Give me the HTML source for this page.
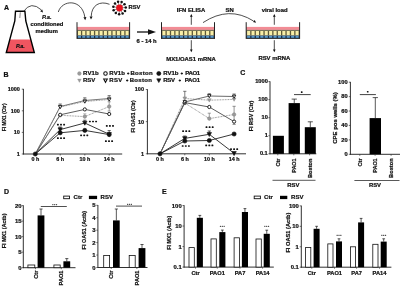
<!DOCTYPE html>
<html><head><meta charset="utf-8"><title>Figure</title>
<style>html,body{margin:0;padding:0;background:#fff;width:400px;height:286px;overflow:hidden}svg{display:block;will-change:transform;filter:blur(0.3px);font-family:"Liberation Sans",sans-serif}text{stroke:#111;stroke-width:0.22px}</style>
</head><body>
<svg width="400" height="286" viewBox="0 0 400 286" font-family="Liberation Sans, sans-serif" font-weight="bold">
<rect width="400" height="286" fill="#fff"/>
<text x="4.0" y="9.6" font-size="7" text-anchor="start" fill="#111" >A</text>
<polygon points="15.5,11.3 14.8,21 6.3,52.5 34.3,52.5 25.8,21 24.9,11.3" fill="#fffdfd" stroke="none"/>
<polygon points="9.83,39.4 6.30,52.5 34.30,52.5 30.77,39.4" fill="#f05560"/>
<polygon points="15.5,11.3 14.8,21 6.3,52.5 34.3,52.5 25.8,21 24.9,11.3" fill="none" stroke="#000" stroke-width="1.4" stroke-linejoin="miter"/>
<line x1="20.3" y1="12.3" x2="19.8" y2="18.0" stroke="#666" stroke-width="0.75" />
<text x="20.4" y="48.0" font-size="5.4" text-anchor="middle" fill="#111" font-style="italic">P.a.</text>
<path d="M23.5,11.5 Q31,0.5 41.5,10" fill="none" stroke="#222" stroke-width="0.8"/>
<polygon points="43.00,12.50 40.13,11.25 42.27,9.46" fill="#111"/>
<text x="46.8" y="18.7" font-size="5.8" text-anchor="middle" fill="#111" font-style="italic">P.a.</text>
<text x="47" y="26.3" font-size="5.8" text-anchor="middle" fill="#111" >conditioned</text>
<text x="46.7" y="33.3" font-size="5.8" text-anchor="middle" fill="#111" >medium</text>
<path d="M58.3,12 C62,-0.5 82,-1.5 84.8,17" fill="none" stroke="#222" stroke-width="0.8"/>
<polygon points="85.20,20.20 83.44,17.34 86.43,17.08" fill="#111"/>
<path d="M109.5,4.3 C100,0.5 91.5,5 91.2,16.5" fill="none" stroke="#222" stroke-width="0.8"/>
<polygon points="91.00,19.50 89.61,16.45 92.60,16.55" fill="#111"/>
<line x1="119.5" y1="8" x2="118.08280835763365" y2="1.8614685918530185" stroke="#222" stroke-width="0.5" />
<circle cx="118.08" cy="1.86" r="1.25" fill="#111"/>
<line x1="119.5" y1="8" x2="121.62652316263792" y2="2.0697471184810023" stroke="#222" stroke-width="0.5" />
<circle cx="121.63" cy="2.07" r="1.25" fill="#111"/>
<line x1="119.5" y1="8" x2="124.49508188879933" y2="4.160839033826684" stroke="#222" stroke-width="0.5" />
<circle cx="124.50" cy="4.16" r="1.25" fill="#111"/>
<line x1="119.5" y1="8" x2="125.77773740882905" y2="7.470837429717251" stroke="#222" stroke-width="0.5" />
<circle cx="125.78" cy="7.47" r="1.25" fill="#111"/>
<line x1="119.5" y1="8" x2="125.06725565792848" y2="10.948841202788536" stroke="#222" stroke-width="0.5" />
<circle cx="125.07" cy="10.95" r="1.25" fill="#111"/>
<line x1="119.5" y1="8" x2="122.58920957198437" y2="13.49060872949076" stroke="#222" stroke-width="0.5" />
<circle cx="122.59" cy="13.49" r="1.25" fill="#111"/>
<line x1="119.5" y1="8" x2="119.13036127424704" y2="14.289146779367112" stroke="#222" stroke-width="0.5" />
<circle cx="119.13" cy="14.29" r="1.25" fill="#111"/>
<line x1="119.5" y1="8" x2="115.78887066019382" y2="13.0909251637821" stroke="#222" stroke-width="0.5" />
<circle cx="115.79" cy="13.09" r="1.25" fill="#111"/>
<line x1="119.5" y1="8" x2="113.62563738994218" y2="10.276370779454586" stroke="#222" stroke-width="0.5" />
<circle cx="113.63" cy="10.28" r="1.25" fill="#111"/>
<line x1="119.5" y1="8" x2="113.3274727421211" y2="6.739084756717586" stroke="#222" stroke-width="0.5" />
<circle cx="113.33" cy="6.74" r="1.25" fill="#111"/>
<line x1="119.5" y1="8" x2="114.98904188568304" y2="3.60213041452137" stroke="#222" stroke-width="0.5" />
<circle cx="114.99" cy="3.60" r="1.25" fill="#111"/>
<circle cx="119.5" cy="8" r="3.4" fill="#e8141f"/>
<text x="128.5" y="8.6" font-size="5.8" text-anchor="start" fill="#111" >RSV</text>
<rect x="77" y="26.9" width="52.599999999999994" height="3.0" fill="#f28c95" stroke="none" stroke-width="0"/>
<rect x="77" y="29.9" width="52.599999999999994" height="0.8" fill="#55553c" stroke="none" stroke-width="0"/>
<rect x="77" y="30.6" width="52.599999999999994" height="4.9" fill="#5e5a38" stroke="none" stroke-width="0"/>
<rect x="77" y="35.5" width="52.599999999999994" height="2.8" fill="#142c48" stroke="none" stroke-width="0"/>
<rect x="77" y="38.2" width="52.599999999999994" height="0.8" fill="#1c1c1c" stroke="none" stroke-width="0"/>
<rect x="77.9" y="31.0" width="3.033333333333333" height="4.2" fill="#f8eea8" stroke="none" stroke-width="0"/>
<rect x="77.9" y="35.9" width="3.083333333333333" height="1.9" fill="#5a98c8" stroke="none" stroke-width="0"/>
<rect x="82.23333333333333" y="31.0" width="3.033333333333333" height="4.2" fill="#f8eea8" stroke="none" stroke-width="0"/>
<rect x="82.23333333333333" y="35.9" width="3.083333333333333" height="1.9" fill="#5a98c8" stroke="none" stroke-width="0"/>
<rect x="86.56666666666668" y="31.0" width="3.033333333333333" height="4.2" fill="#f8eea8" stroke="none" stroke-width="0"/>
<rect x="86.56666666666668" y="35.9" width="3.083333333333333" height="1.9" fill="#5a98c8" stroke="none" stroke-width="0"/>
<rect x="90.9" y="31.0" width="3.033333333333333" height="4.2" fill="#f8eea8" stroke="none" stroke-width="0"/>
<rect x="90.9" y="35.9" width="3.083333333333333" height="1.9" fill="#5a98c8" stroke="none" stroke-width="0"/>
<rect x="95.23333333333333" y="31.0" width="3.033333333333333" height="4.2" fill="#f8eea8" stroke="none" stroke-width="0"/>
<rect x="95.23333333333333" y="35.9" width="3.083333333333333" height="1.9" fill="#5a98c8" stroke="none" stroke-width="0"/>
<rect x="99.56666666666668" y="31.0" width="3.033333333333333" height="4.2" fill="#f8eea8" stroke="none" stroke-width="0"/>
<rect x="99.56666666666668" y="35.9" width="3.083333333333333" height="1.9" fill="#5a98c8" stroke="none" stroke-width="0"/>
<rect x="103.9" y="31.0" width="3.033333333333333" height="4.2" fill="#f8eea8" stroke="none" stroke-width="0"/>
<rect x="103.9" y="35.9" width="3.083333333333333" height="1.9" fill="#5a98c8" stroke="none" stroke-width="0"/>
<rect x="108.23333333333333" y="31.0" width="3.033333333333333" height="4.2" fill="#f8eea8" stroke="none" stroke-width="0"/>
<rect x="108.23333333333333" y="35.9" width="3.083333333333333" height="1.9" fill="#5a98c8" stroke="none" stroke-width="0"/>
<rect x="112.56666666666668" y="31.0" width="3.033333333333333" height="4.2" fill="#f8eea8" stroke="none" stroke-width="0"/>
<rect x="112.56666666666668" y="35.9" width="3.083333333333333" height="1.9" fill="#5a98c8" stroke="none" stroke-width="0"/>
<rect x="116.9" y="31.0" width="3.033333333333333" height="4.2" fill="#f8eea8" stroke="none" stroke-width="0"/>
<rect x="116.9" y="35.9" width="3.083333333333333" height="1.9" fill="#5a98c8" stroke="none" stroke-width="0"/>
<rect x="121.23333333333333" y="31.0" width="3.033333333333333" height="4.2" fill="#f8eea8" stroke="none" stroke-width="0"/>
<rect x="121.23333333333333" y="35.9" width="3.083333333333333" height="1.9" fill="#5a98c8" stroke="none" stroke-width="0"/>
<rect x="125.56666666666668" y="31.0" width="3.033333333333333" height="4.2" fill="#f8eea8" stroke="none" stroke-width="0"/>
<rect x="125.56666666666668" y="35.9" width="3.083333333333333" height="1.9" fill="#5a98c8" stroke="none" stroke-width="0"/>
<line x1="77" y1="22.2" x2="77" y2="38.9" stroke="#222" stroke-width="1.0" />
<line x1="129.6" y1="22.2" x2="129.6" y2="38.9" stroke="#222" stroke-width="1.0" />
<rect x="161.5" y="26.9" width="53.0" height="3.0" fill="#f28c95" stroke="none" stroke-width="0"/>
<rect x="161.5" y="29.9" width="53.0" height="0.8" fill="#55553c" stroke="none" stroke-width="0"/>
<rect x="161.5" y="30.6" width="53.0" height="4.9" fill="#5e5a38" stroke="none" stroke-width="0"/>
<rect x="161.5" y="35.5" width="53.0" height="2.8" fill="#142c48" stroke="none" stroke-width="0"/>
<rect x="161.5" y="38.2" width="53.0" height="0.8" fill="#1c1c1c" stroke="none" stroke-width="0"/>
<rect x="162.39999999999998" y="31.0" width="3.0666666666666664" height="4.2" fill="#f8eea8" stroke="none" stroke-width="0"/>
<rect x="162.39999999999998" y="35.9" width="3.1166666666666663" height="1.9" fill="#5a98c8" stroke="none" stroke-width="0"/>
<rect x="166.76666666666665" y="31.0" width="3.0666666666666664" height="4.2" fill="#f8eea8" stroke="none" stroke-width="0"/>
<rect x="166.76666666666665" y="35.9" width="3.1166666666666663" height="1.9" fill="#5a98c8" stroke="none" stroke-width="0"/>
<rect x="171.1333333333333" y="31.0" width="3.0666666666666664" height="4.2" fill="#f8eea8" stroke="none" stroke-width="0"/>
<rect x="171.1333333333333" y="35.9" width="3.1166666666666663" height="1.9" fill="#5a98c8" stroke="none" stroke-width="0"/>
<rect x="175.49999999999997" y="31.0" width="3.0666666666666664" height="4.2" fill="#f8eea8" stroke="none" stroke-width="0"/>
<rect x="175.49999999999997" y="35.9" width="3.1166666666666663" height="1.9" fill="#5a98c8" stroke="none" stroke-width="0"/>
<rect x="179.86666666666665" y="31.0" width="3.0666666666666664" height="4.2" fill="#f8eea8" stroke="none" stroke-width="0"/>
<rect x="179.86666666666665" y="35.9" width="3.1166666666666663" height="1.9" fill="#5a98c8" stroke="none" stroke-width="0"/>
<rect x="184.23333333333332" y="31.0" width="3.0666666666666664" height="4.2" fill="#f8eea8" stroke="none" stroke-width="0"/>
<rect x="184.23333333333332" y="35.9" width="3.1166666666666663" height="1.9" fill="#5a98c8" stroke="none" stroke-width="0"/>
<rect x="188.59999999999997" y="31.0" width="3.0666666666666664" height="4.2" fill="#f8eea8" stroke="none" stroke-width="0"/>
<rect x="188.59999999999997" y="35.9" width="3.1166666666666663" height="1.9" fill="#5a98c8" stroke="none" stroke-width="0"/>
<rect x="192.96666666666664" y="31.0" width="3.0666666666666664" height="4.2" fill="#f8eea8" stroke="none" stroke-width="0"/>
<rect x="192.96666666666664" y="35.9" width="3.1166666666666663" height="1.9" fill="#5a98c8" stroke="none" stroke-width="0"/>
<rect x="197.33333333333331" y="31.0" width="3.0666666666666664" height="4.2" fill="#f8eea8" stroke="none" stroke-width="0"/>
<rect x="197.33333333333331" y="35.9" width="3.1166666666666663" height="1.9" fill="#5a98c8" stroke="none" stroke-width="0"/>
<rect x="201.7" y="31.0" width="3.0666666666666664" height="4.2" fill="#f8eea8" stroke="none" stroke-width="0"/>
<rect x="201.7" y="35.9" width="3.1166666666666663" height="1.9" fill="#5a98c8" stroke="none" stroke-width="0"/>
<rect x="206.06666666666663" y="31.0" width="3.0666666666666664" height="4.2" fill="#f8eea8" stroke="none" stroke-width="0"/>
<rect x="206.06666666666663" y="35.9" width="3.1166666666666663" height="1.9" fill="#5a98c8" stroke="none" stroke-width="0"/>
<rect x="210.4333333333333" y="31.0" width="3.0666666666666664" height="4.2" fill="#f8eea8" stroke="none" stroke-width="0"/>
<rect x="210.4333333333333" y="35.9" width="3.1166666666666663" height="1.9" fill="#5a98c8" stroke="none" stroke-width="0"/>
<line x1="161.5" y1="22.2" x2="161.5" y2="38.9" stroke="#222" stroke-width="1.0" />
<line x1="214.5" y1="22.2" x2="214.5" y2="38.9" stroke="#222" stroke-width="1.0" />
<rect x="246.2" y="26.9" width="53.400000000000034" height="3.0" fill="#f28c95" stroke="none" stroke-width="0"/>
<rect x="246.2" y="29.9" width="53.400000000000034" height="0.8" fill="#55553c" stroke="none" stroke-width="0"/>
<rect x="246.2" y="30.6" width="53.400000000000034" height="4.9" fill="#5e5a38" stroke="none" stroke-width="0"/>
<rect x="246.2" y="35.5" width="53.400000000000034" height="2.8" fill="#142c48" stroke="none" stroke-width="0"/>
<rect x="246.2" y="38.2" width="53.400000000000034" height="0.8" fill="#1c1c1c" stroke="none" stroke-width="0"/>
<rect x="247.09999999999997" y="31.0" width="3.100000000000003" height="4.2" fill="#f8eea8" stroke="none" stroke-width="0"/>
<rect x="247.09999999999997" y="35.9" width="3.150000000000003" height="1.9" fill="#5a98c8" stroke="none" stroke-width="0"/>
<rect x="251.49999999999997" y="31.0" width="3.100000000000003" height="4.2" fill="#f8eea8" stroke="none" stroke-width="0"/>
<rect x="251.49999999999997" y="35.9" width="3.150000000000003" height="1.9" fill="#5a98c8" stroke="none" stroke-width="0"/>
<rect x="255.89999999999998" y="31.0" width="3.100000000000003" height="4.2" fill="#f8eea8" stroke="none" stroke-width="0"/>
<rect x="255.89999999999998" y="35.9" width="3.150000000000003" height="1.9" fill="#5a98c8" stroke="none" stroke-width="0"/>
<rect x="260.29999999999995" y="31.0" width="3.100000000000003" height="4.2" fill="#f8eea8" stroke="none" stroke-width="0"/>
<rect x="260.29999999999995" y="35.9" width="3.150000000000003" height="1.9" fill="#5a98c8" stroke="none" stroke-width="0"/>
<rect x="264.7" y="31.0" width="3.100000000000003" height="4.2" fill="#f8eea8" stroke="none" stroke-width="0"/>
<rect x="264.7" y="35.9" width="3.150000000000003" height="1.9" fill="#5a98c8" stroke="none" stroke-width="0"/>
<rect x="269.09999999999997" y="31.0" width="3.100000000000003" height="4.2" fill="#f8eea8" stroke="none" stroke-width="0"/>
<rect x="269.09999999999997" y="35.9" width="3.150000000000003" height="1.9" fill="#5a98c8" stroke="none" stroke-width="0"/>
<rect x="273.5" y="31.0" width="3.100000000000003" height="4.2" fill="#f8eea8" stroke="none" stroke-width="0"/>
<rect x="273.5" y="35.9" width="3.150000000000003" height="1.9" fill="#5a98c8" stroke="none" stroke-width="0"/>
<rect x="277.9" y="31.0" width="3.100000000000003" height="4.2" fill="#f8eea8" stroke="none" stroke-width="0"/>
<rect x="277.9" y="35.9" width="3.150000000000003" height="1.9" fill="#5a98c8" stroke="none" stroke-width="0"/>
<rect x="282.3" y="31.0" width="3.100000000000003" height="4.2" fill="#f8eea8" stroke="none" stroke-width="0"/>
<rect x="282.3" y="35.9" width="3.150000000000003" height="1.9" fill="#5a98c8" stroke="none" stroke-width="0"/>
<rect x="286.7" y="31.0" width="3.100000000000003" height="4.2" fill="#f8eea8" stroke="none" stroke-width="0"/>
<rect x="286.7" y="35.9" width="3.150000000000003" height="1.9" fill="#5a98c8" stroke="none" stroke-width="0"/>
<rect x="291.09999999999997" y="31.0" width="3.100000000000003" height="4.2" fill="#f8eea8" stroke="none" stroke-width="0"/>
<rect x="291.09999999999997" y="35.9" width="3.150000000000003" height="1.9" fill="#5a98c8" stroke="none" stroke-width="0"/>
<rect x="295.5" y="31.0" width="3.100000000000003" height="4.2" fill="#f8eea8" stroke="none" stroke-width="0"/>
<rect x="295.5" y="35.9" width="3.150000000000003" height="1.9" fill="#5a98c8" stroke="none" stroke-width="0"/>
<line x1="246.2" y1="22.2" x2="246.2" y2="38.9" stroke="#222" stroke-width="1.0" />
<line x1="299.6" y1="22.2" x2="299.6" y2="38.9" stroke="#222" stroke-width="1.0" />
<line x1="137" y1="32" x2="149" y2="32" stroke="#111" stroke-width="1.3" />
<polygon points="148,29.2 156,32 148,34.8" fill="#111"/>
<text x="146.6" y="42.6" font-size="5.8" text-anchor="middle" fill="#111" >6 - 14 h</text>
<line x1="191.3" y1="24.8" x2="191.3" y2="16" stroke="#111" stroke-width="0.75" />
<polygon points="191.30,14.00 192.65,16.70 189.95,16.70" fill="#111"/>
<line x1="191.3" y1="40.2" x2="191.3" y2="50" stroke="#111" stroke-width="0.75" />
<polygon points="191.30,52.30 189.95,49.60 192.65,49.60" fill="#111"/>
<text x="191" y="12" font-size="5.9" text-anchor="middle" fill="#111" >IFN ELISA</text>
<text x="191" y="60.6" font-size="5.9" text-anchor="middle" fill="#111" >MX1/OAS1 mRNA</text>
<path d="M203,22.6 Q229,5.5 253.5,21" fill="none" stroke="#222" stroke-width="0.8"/>
<polygon points="256.00,22.80 252.96,22.07 254.75,19.93" fill="#111"/>
<text x="229.6" y="11.8" font-size="5.9" text-anchor="middle" fill="#111" >SN</text>
<line x1="274.3" y1="24.8" x2="274.3" y2="16" stroke="#111" stroke-width="0.75" />
<polygon points="274.30,14.00 275.65,16.70 272.95,16.70" fill="#111"/>
<line x1="274.3" y1="40.2" x2="274.3" y2="50" stroke="#111" stroke-width="0.75" />
<polygon points="274.30,52.30 272.95,49.60 275.65,49.60" fill="#111"/>
<text x="274.6" y="11.7" font-size="5.9" text-anchor="middle" fill="#111" >viral load</text>
<text x="274.3" y="60.4" font-size="5.9" text-anchor="middle" fill="#111" >RSV mRNA</text>
<text x="3.6" y="76.6" font-size="7" text-anchor="start" fill="#111" >B</text>
<circle cx="79.4" cy="73.5" r="1.9" fill="#9a9a9a" stroke="#9a9a9a" stroke-width="0.3"/>
<polygon points="77.5,78.98 81.30000000000001,78.98 79.4,82.4" fill="#9a9a9a" stroke="#9a9a9a" stroke-width="0.3"/>
<text x="83.10000000000001" y="75.4" font-size="6.0" textLength="15.50" lengthAdjust="spacing" fill="#111" >RV1b</text>
<text x="83.10000000000001" y="82.4" font-size="6.0" textLength="12.20" lengthAdjust="spacing" fill="#111" >RSV</text>
<circle cx="105.5" cy="73.5" r="1.75" fill="#fff" stroke="#111" stroke-width="1.05"/>
<polygon points="103.7,79.06 107.3,79.06 105.5,82.3" fill="#fff" stroke="#111" stroke-width="1.05"/>
<text x="109.30000000000001" y="75.4" font-size="6.0" textLength="15.70" lengthAdjust="spacing" fill="#111" >RV1b</text>
<line x1="127.1" y1="73.5" x2="129.29999999999998" y2="73.5" stroke="#111" stroke-width="0.95" />
<line x1="128.2" y1="72.4" x2="128.2" y2="74.6" stroke="#111" stroke-width="0.95" />
<text x="130.4" y="75.4" font-size="6.0" textLength="22.20" lengthAdjust="spacing" fill="#111" >Boston</text>
<text x="109.30000000000001" y="82.4" font-size="6.0" textLength="13.00" lengthAdjust="spacing" fill="#111" >RSV</text>
<line x1="126.10000000000001" y1="80.5" x2="128.3" y2="80.5" stroke="#111" stroke-width="0.95" />
<line x1="127.2" y1="79.4" x2="127.2" y2="81.6" stroke="#111" stroke-width="0.95" />
<text x="129.70000000000002" y="82.4" font-size="6.0" textLength="22.30" lengthAdjust="spacing" fill="#111" >Boston</text>
<circle cx="158.8" cy="73.5" r="2.05" fill="#111" stroke="#111" stroke-width="0.6"/>
<polygon points="156.75,78.86 160.85000000000002,78.86 158.8,82.55" fill="#111" stroke="#111" stroke-width="0.6"/>
<text x="163.3" y="75.4" font-size="6.0" textLength="15.10" lengthAdjust="spacing" fill="#111" >RV1b</text>
<line x1="180.70000000000002" y1="73.5" x2="182.9" y2="73.5" stroke="#111" stroke-width="0.95" />
<line x1="181.8" y1="72.4" x2="181.8" y2="74.6" stroke="#111" stroke-width="0.95" />
<text x="185.3" y="75.4" font-size="6.0" textLength="14.70" lengthAdjust="spacing" fill="#111" >PAO1</text>
<text x="163.3" y="82.4" font-size="6.0" textLength="11.80" lengthAdjust="spacing" fill="#111" >RSV</text>
<line x1="178.70000000000002" y1="80.5" x2="180.9" y2="80.5" stroke="#111" stroke-width="0.95" />
<line x1="179.8" y1="79.4" x2="179.8" y2="81.6" stroke="#111" stroke-width="0.95" />
<text x="184.8" y="82.4" font-size="6.0" textLength="15.20" lengthAdjust="spacing" fill="#111" >PAO1</text>
<line x1="23.4" y1="88.9" x2="23.4" y2="154.4" stroke="#1a1a1a" stroke-width="0.9" />
<line x1="23.0" y1="154.0" x2="122.2" y2="154.0" stroke="#1a1a1a" stroke-width="0.9" />
<line x1="21.799999999999997" y1="89.2" x2="23.4" y2="89.2" stroke="#333" stroke-width="0.7" />
<text x="19.9" y="91.192" font-size="5.5" text-anchor="end" fill="#111" >1000</text>
<line x1="21.799999999999997" y1="110.8" x2="23.4" y2="110.8" stroke="#333" stroke-width="0.7" />
<text x="19.9" y="112.79199999999999" font-size="5.5" text-anchor="end" fill="#111" >100</text>
<line x1="21.799999999999997" y1="132.4" x2="23.4" y2="132.4" stroke="#333" stroke-width="0.7" />
<text x="19.9" y="134.392" font-size="5.5" text-anchor="end" fill="#111" >10</text>
<line x1="21.799999999999997" y1="154.0" x2="23.4" y2="154.0" stroke="#333" stroke-width="0.7" />
<text x="19.9" y="155.992" font-size="5.5" text-anchor="end" fill="#111" >1</text>
<line x1="35.3" y1="154.0" x2="35.3" y2="155.5" stroke="#333" stroke-width="0.7" />
<text x="35.3" y="161.4" font-size="5.4" text-anchor="middle" fill="#111" >0 h</text>
<line x1="60.2" y1="154.0" x2="60.2" y2="155.5" stroke="#333" stroke-width="0.7" />
<text x="60.2" y="161.4" font-size="5.4" text-anchor="middle" fill="#111" >6 h</text>
<line x1="84.8" y1="154.0" x2="84.8" y2="155.5" stroke="#333" stroke-width="0.7" />
<text x="84.8" y="161.4" font-size="5.4" text-anchor="middle" fill="#111" >10 h</text>
<line x1="109.2" y1="154.0" x2="109.2" y2="155.5" stroke="#333" stroke-width="0.7" />
<text x="109.2" y="161.4" font-size="5.4" text-anchor="middle" fill="#111" >14 h</text>
<text transform="translate(6.13,131.30) rotate(-90)" font-size="6.2" textLength="27.90" lengthAdjust="spacingAndGlyphs" fill="#111">FI MX1 (Ctr)</text>
<line x1="60.2" y1="106.5" x2="60.2" y2="104.0" stroke="#444" stroke-width="0.7" />
<line x1="58.6" y1="104.0" x2="61.800000000000004" y2="104.0" stroke="#444" stroke-width="0.7" />
<line x1="84.8" y1="100.5" x2="84.8" y2="97.8" stroke="#444" stroke-width="0.7" />
<line x1="83.2" y1="97.8" x2="86.39999999999999" y2="97.8" stroke="#444" stroke-width="0.7" />
<line x1="109.2" y1="98.5" x2="109.2" y2="95.6" stroke="#444" stroke-width="0.7" />
<line x1="107.60000000000001" y1="95.6" x2="110.8" y2="95.6" stroke="#444" stroke-width="0.7" />
<line x1="109.2" y1="106.5" x2="109.2" y2="101.8" stroke="#777" stroke-width="0.7" />
<line x1="107.60000000000001" y1="101.8" x2="110.8" y2="101.8" stroke="#777" stroke-width="0.7" />
<line x1="109.2" y1="106.5" x2="109.2" y2="111" stroke="#777" stroke-width="0.7" />
<line x1="107.60000000000001" y1="111" x2="110.8" y2="111" stroke="#777" stroke-width="0.7" />
<line x1="84.8" y1="116.6" x2="84.8" y2="113.8" stroke="#9a9a9a" stroke-width="0.7" />
<line x1="83.2" y1="113.8" x2="86.39999999999999" y2="113.8" stroke="#9a9a9a" stroke-width="0.7" />
<line x1="84.8" y1="123.0" x2="84.8" y2="120.2" stroke="#222" stroke-width="0.7" />
<line x1="83.2" y1="120.2" x2="86.39999999999999" y2="120.2" stroke="#222" stroke-width="0.7" />
<line x1="109.2" y1="134.4" x2="109.2" y2="130.6" stroke="#222" stroke-width="0.7" />
<line x1="107.60000000000001" y1="130.6" x2="110.8" y2="130.6" stroke="#222" stroke-width="0.7" />
<line x1="60.2" y1="129.6" x2="60.2" y2="127.0" stroke="#222" stroke-width="0.7" />
<line x1="58.6" y1="127.0" x2="61.800000000000004" y2="127.0" stroke="#222" stroke-width="0.7" />
<path d="M35.3,154.0 L60.2,106.5 L84.8,100.5 L109.2,98.5" fill="none" stroke="#555" stroke-width="0.8" />
<path d="M35.3,154.0 L60.2,107.0 L84.8,101.5 L109.2,99.5" fill="none" stroke="#777" stroke-width="0.8" stroke-dasharray="0.9,0.7"/>
<path d="M35.3,154.0 L60.2,114.8 L84.8,109.4 L109.2,114.0" fill="none" stroke="#333" stroke-width="0.8" />
<path d="M35.3,154.0 L60.2,115.3 L84.8,116.6 L109.2,106.5" fill="none" stroke="#777" stroke-width="0.8" stroke-dasharray="0.9,0.7"/>
<path d="M35.3,154.0 L60.2,132.8 L84.8,130.4 L109.2,134.6" fill="none" stroke="#222" stroke-width="0.9" />
<path d="M35.3,154.0 L60.2,129.6 L84.8,123.0 L109.2,134.3" fill="none" stroke="#222" stroke-width="0.9" />
<polygon points="58.300000000000004,104.98 62.1,104.98 60.2,108.4" fill="#9a9a9a" stroke="#777" stroke-width="0.4"/>
<circle cx="60.2" cy="115.3" r="1.8" fill="#9a9a9a" stroke="#777" stroke-width="0.4"/>
<circle cx="60.2" cy="114.8" r="1.6" fill="#fff" stroke="#111" stroke-width="0.9"/>
<polygon points="58.5,105.64 61.900000000000006,105.64 60.2,108.7" fill="#fff" stroke="#111" stroke-width="0.9"/>
<circle cx="60.2" cy="132.8" r="2.1" fill="#111" stroke="#111" stroke-width="0.6"/>
<polygon points="58.0,127.83999999999999 62.400000000000006,127.83999999999999 60.2,131.79999999999998" fill="#111" stroke="#111" stroke-width="0.6"/>
<polygon points="82.89999999999999,98.98 86.7,98.98 84.8,102.4" fill="#9a9a9a" stroke="#777" stroke-width="0.4"/>
<circle cx="84.8" cy="116.6" r="1.8" fill="#9a9a9a" stroke="#777" stroke-width="0.4"/>
<circle cx="84.8" cy="109.4" r="1.6" fill="#fff" stroke="#111" stroke-width="0.9"/>
<polygon points="83.1,100.14 86.5,100.14 84.8,103.2" fill="#fff" stroke="#111" stroke-width="0.9"/>
<circle cx="84.8" cy="130.4" r="2.1" fill="#111" stroke="#111" stroke-width="0.6"/>
<polygon points="82.6,121.24 87.0,121.24 84.8,125.2" fill="#111" stroke="#111" stroke-width="0.6"/>
<polygon points="107.3,96.98 111.10000000000001,96.98 109.2,100.4" fill="#9a9a9a" stroke="#777" stroke-width="0.4"/>
<circle cx="109.2" cy="106.5" r="1.8" fill="#9a9a9a" stroke="#777" stroke-width="0.4"/>
<circle cx="109.2" cy="114.0" r="1.6" fill="#fff" stroke="#111" stroke-width="0.9"/>
<polygon points="107.5,98.14 110.9,98.14 109.2,101.2" fill="#fff" stroke="#111" stroke-width="0.9"/>
<circle cx="109.2" cy="134.6" r="2.1" fill="#111" stroke="#111" stroke-width="0.6"/>
<polygon points="107.0,132.54000000000002 111.4,132.54000000000002 109.2,136.5" fill="#111" stroke="#111" stroke-width="0.6"/>
<circle cx="35.3" cy="154.0" r="2.1" fill="#111" stroke="#111" stroke-width="0.6"/>
<rect x="56.95" y="123.85" width="1.90" height="1.70" rx="0.57" fill="#111"/>
<rect x="60.05" y="123.85" width="1.90" height="1.70" rx="0.57" fill="#111"/>
<rect x="63.15" y="123.85" width="1.90" height="1.70" rx="0.57" fill="#111"/>
<rect x="56.95" y="137.35" width="1.90" height="1.70" rx="0.57" fill="#111"/>
<rect x="60.05" y="137.35" width="1.90" height="1.70" rx="0.57" fill="#111"/>
<rect x="63.15" y="137.35" width="1.90" height="1.70" rx="0.57" fill="#111"/>
<rect x="88.95" y="120.65" width="1.90" height="1.70" rx="0.57" fill="#111"/>
<rect x="92.05" y="120.65" width="1.90" height="1.70" rx="0.57" fill="#111"/>
<rect x="95.15" y="120.65" width="1.90" height="1.70" rx="0.57" fill="#111"/>
<rect x="80.15" y="134.45" width="1.90" height="1.70" rx="0.57" fill="#111"/>
<rect x="83.25" y="134.45" width="1.90" height="1.70" rx="0.57" fill="#111"/>
<rect x="86.35" y="134.45" width="1.90" height="1.70" rx="0.57" fill="#111"/>
<rect x="105.85" y="125.05" width="1.90" height="1.70" rx="0.57" fill="#111"/>
<rect x="108.95" y="125.05" width="1.90" height="1.70" rx="0.57" fill="#111"/>
<rect x="112.05" y="125.05" width="1.90" height="1.70" rx="0.57" fill="#111"/>
<rect x="104.95" y="140.35" width="1.90" height="1.70" rx="0.57" fill="#111"/>
<rect x="108.05" y="140.35" width="1.90" height="1.70" rx="0.57" fill="#111"/>
<rect x="111.15" y="140.35" width="1.90" height="1.70" rx="0.57" fill="#111"/>
<line x1="147.4" y1="89.2" x2="147.4" y2="154.20000000000002" stroke="#1a1a1a" stroke-width="0.9" />
<line x1="147.0" y1="153.8" x2="246" y2="153.8" stroke="#1a1a1a" stroke-width="0.9" />
<line x1="145.8" y1="89.5" x2="147.4" y2="89.5" stroke="#333" stroke-width="0.7" />
<text x="144.0" y="91.49199999999999" font-size="5.5" text-anchor="end" fill="#111" >100</text>
<line x1="145.8" y1="121.65" x2="147.4" y2="121.65" stroke="#333" stroke-width="0.7" />
<text x="144.0" y="123.642" font-size="5.5" text-anchor="end" fill="#111" >10</text>
<line x1="145.8" y1="153.8" x2="147.4" y2="153.8" stroke="#333" stroke-width="0.7" />
<text x="144.0" y="155.792" font-size="5.5" text-anchor="end" fill="#111" >1</text>
<line x1="160" y1="153.8" x2="160" y2="155.3" stroke="#333" stroke-width="0.7" />
<text x="160" y="161.20000000000002" font-size="5.4" text-anchor="middle" fill="#111" >0 h</text>
<line x1="184.8" y1="153.8" x2="184.8" y2="155.3" stroke="#333" stroke-width="0.7" />
<text x="184.8" y="161.20000000000002" font-size="5.4" text-anchor="middle" fill="#111" >6 h</text>
<line x1="209.3" y1="153.8" x2="209.3" y2="155.3" stroke="#333" stroke-width="0.7" />
<text x="209.3" y="161.20000000000002" font-size="5.4" text-anchor="middle" fill="#111" >10 h</text>
<line x1="234.1" y1="153.8" x2="234.1" y2="155.3" stroke="#333" stroke-width="0.7" />
<text x="234.1" y="161.20000000000002" font-size="5.4" text-anchor="middle" fill="#111" >14 h</text>
<text transform="translate(134.73,132.55) rotate(-90)" font-size="6.2" textLength="32.40" lengthAdjust="spacingAndGlyphs" fill="#111">FI OAS1 (Ctr)</text>
<line x1="184.8" y1="98.5" x2="184.8" y2="91.3" stroke="#444" stroke-width="0.7" />
<line x1="183.20000000000002" y1="91.3" x2="186.4" y2="91.3" stroke="#444" stroke-width="0.7" />
<line x1="209.3" y1="96" x2="209.3" y2="93.7" stroke="#444" stroke-width="0.7" />
<line x1="207.70000000000002" y1="93.7" x2="210.9" y2="93.7" stroke="#444" stroke-width="0.7" />
<line x1="234.1" y1="96.5" x2="234.1" y2="94.0" stroke="#444" stroke-width="0.7" />
<line x1="232.5" y1="94.0" x2="235.7" y2="94.0" stroke="#444" stroke-width="0.7" />
<line x1="234.1" y1="114.5" x2="234.1" y2="106.3" stroke="#666" stroke-width="0.7" />
<line x1="232.5" y1="106.3" x2="235.7" y2="106.3" stroke="#666" stroke-width="0.7" />
<line x1="234.1" y1="114.5" x2="234.1" y2="124.4" stroke="#666" stroke-width="0.7" />
<line x1="232.5" y1="124.4" x2="235.7" y2="124.4" stroke="#666" stroke-width="0.7" />
<line x1="209.3" y1="118.6" x2="209.3" y2="113.2" stroke="#777" stroke-width="0.7" />
<line x1="207.70000000000002" y1="113.2" x2="210.9" y2="113.2" stroke="#777" stroke-width="0.7" />
<line x1="184.8" y1="138.4" x2="184.8" y2="136.0" stroke="#222" stroke-width="0.7" />
<line x1="183.20000000000002" y1="136.0" x2="186.4" y2="136.0" stroke="#222" stroke-width="0.7" />
<line x1="209.3" y1="134.3" x2="209.3" y2="131.0" stroke="#222" stroke-width="0.7" />
<line x1="207.70000000000002" y1="131.0" x2="210.9" y2="131.0" stroke="#222" stroke-width="0.7" />
<path d="M160,153.8 L184.8,102.0 L209.3,96.0 L234.1,96.5" fill="none" stroke="#444" stroke-width="0.8" />
<path d="M160,153.8 L184.8,98.5 L209.3,100.2 L234.1,99.4" fill="none" stroke="#777" stroke-width="0.8" stroke-dasharray="0.9,0.7"/>
<path d="M160,153.8 L184.8,102.6 L209.3,107.0 L234.1,121.6" fill="none" stroke="#333" stroke-width="0.8" />
<path d="M160,153.8 L184.8,103.0 L209.3,118.6 L234.1,114.5" fill="none" stroke="#777" stroke-width="0.8" stroke-dasharray="0.9,0.7"/>
<path d="M160,153.8 L184.8,141.0 L209.3,140.5 L234.1,134.0" fill="none" stroke="#222" stroke-width="0.9" />
<path d="M160,153.8 L184.8,138.4 L209.3,134.3 L234.1,153.3" fill="none" stroke="#222" stroke-width="0.9" />
<polygon points="182.9,96.98 186.70000000000002,96.98 184.8,100.4" fill="#9a9a9a" stroke="#777" stroke-width="0.4"/>
<circle cx="184.8" cy="103.0" r="1.8" fill="#9a9a9a" stroke="#777" stroke-width="0.4"/>
<circle cx="184.8" cy="102.6" r="1.6" fill="#fff" stroke="#111" stroke-width="0.9"/>
<polygon points="183.10000000000002,100.64 186.5,100.64 184.8,103.7" fill="#fff" stroke="#111" stroke-width="0.9"/>
<circle cx="184.8" cy="141.0" r="2.1" fill="#111" stroke="#111" stroke-width="0.6"/>
<polygon points="182.60000000000002,136.64000000000001 187.0,136.64000000000001 184.8,140.6" fill="#111" stroke="#111" stroke-width="0.6"/>
<polygon points="207.4,98.68 211.20000000000002,98.68 209.3,102.10000000000001" fill="#9a9a9a" stroke="#777" stroke-width="0.4"/>
<circle cx="209.3" cy="118.6" r="1.8" fill="#9a9a9a" stroke="#777" stroke-width="0.4"/>
<circle cx="209.3" cy="107.0" r="1.6" fill="#fff" stroke="#111" stroke-width="0.9"/>
<polygon points="207.60000000000002,94.64 211.0,94.64 209.3,97.7" fill="#fff" stroke="#111" stroke-width="0.9"/>
<circle cx="209.3" cy="140.5" r="2.1" fill="#111" stroke="#111" stroke-width="0.6"/>
<polygon points="207.10000000000002,132.54000000000002 211.5,132.54000000000002 209.3,136.5" fill="#111" stroke="#111" stroke-width="0.6"/>
<polygon points="232.2,97.88000000000001 236.0,97.88000000000001 234.1,101.30000000000001" fill="#9a9a9a" stroke="#777" stroke-width="0.4"/>
<circle cx="234.1" cy="114.5" r="1.8" fill="#9a9a9a" stroke="#777" stroke-width="0.4"/>
<circle cx="234.1" cy="121.6" r="1.6" fill="#fff" stroke="#111" stroke-width="0.9"/>
<polygon points="232.4,95.14 235.79999999999998,95.14 234.1,98.2" fill="#fff" stroke="#111" stroke-width="0.9"/>
<circle cx="234.1" cy="134.0" r="2.1" fill="#111" stroke="#111" stroke-width="0.6"/>
<polygon points="231.9,151.54000000000002 236.29999999999998,151.54000000000002 234.1,155.5" fill="#111" stroke="#111" stroke-width="0.6"/>
<circle cx="160" cy="153.8" r="2.1" fill="#111" stroke="#111" stroke-width="0.6"/>
<rect x="182.15" y="130.35" width="1.90" height="1.70" rx="0.57" fill="#111"/>
<rect x="185.25" y="130.35" width="1.90" height="1.70" rx="0.57" fill="#111"/>
<rect x="188.35" y="130.35" width="1.90" height="1.70" rx="0.57" fill="#111"/>
<rect x="181.75" y="145.15" width="1.90" height="1.70" rx="0.57" fill="#111"/>
<rect x="184.85" y="145.15" width="1.90" height="1.70" rx="0.57" fill="#111"/>
<rect x="187.95" y="145.15" width="1.90" height="1.70" rx="0.57" fill="#111"/>
<rect x="205.55" y="126.35" width="1.90" height="1.70" rx="0.57" fill="#111"/>
<rect x="208.65" y="126.35" width="1.90" height="1.70" rx="0.57" fill="#111"/>
<rect x="211.75" y="126.35" width="1.90" height="1.70" rx="0.57" fill="#111"/>
<rect x="205.25" y="144.55" width="1.90" height="1.70" rx="0.57" fill="#111"/>
<rect x="208.35" y="144.55" width="1.90" height="1.70" rx="0.57" fill="#111"/>
<rect x="211.45" y="144.55" width="1.90" height="1.70" rx="0.57" fill="#111"/>
<rect x="230.05" y="148.35" width="1.90" height="1.70" rx="0.57" fill="#111"/>
<rect x="233.15" y="148.35" width="1.90" height="1.70" rx="0.57" fill="#111"/>
<rect x="236.25" y="148.35" width="1.90" height="1.70" rx="0.57" fill="#111"/>
<text x="240.3" y="74.7" font-size="7" text-anchor="start" fill="#111" >C</text>
<line x1="270" y1="81.3" x2="270" y2="154.20000000000002" stroke="#1a1a1a" stroke-width="0.9" />
<line x1="269.6" y1="153.8" x2="316.3" y2="153.8" stroke="#1a1a1a" stroke-width="0.9" />
<line x1="268.4" y1="81.6" x2="270" y2="81.6" stroke="#333" stroke-width="0.7" />
<text x="267.8" y="83.2608" font-size="5.7" text-anchor="end" fill="#111" >1000</text>
<line x1="268.4" y1="99.65" x2="270" y2="99.65" stroke="#333" stroke-width="0.7" />
<text x="267.8" y="101.31080000000001" font-size="5.7" text-anchor="end" fill="#111" >100</text>
<line x1="268.4" y1="117.7" x2="270" y2="117.7" stroke="#333" stroke-width="0.7" />
<text x="267.8" y="119.36080000000001" font-size="5.7" text-anchor="end" fill="#111" >10</text>
<line x1="268.4" y1="135.75" x2="270" y2="135.75" stroke="#333" stroke-width="0.7" />
<text x="267.8" y="137.4108" font-size="5.7" text-anchor="end" fill="#111" >1</text>
<line x1="268.4" y1="153.8" x2="270" y2="153.8" stroke="#333" stroke-width="0.7" />
<text x="267.8" y="155.4608" font-size="5.7" text-anchor="end" fill="#111" >0.1</text>
<text transform="translate(253.33,131.30) rotate(-90)" font-size="6.2" textLength="30.70" lengthAdjust="spacingAndGlyphs" fill="#111">FI RSV (Ctr)</text>
<rect x="272.9" y="135.8" width="11.0" height="18.0" fill="#000" stroke="none" stroke-width="0"/>
<line x1="294.25" y1="103.1" x2="294.25" y2="99.1" stroke="#111" stroke-width="0.7" />
<line x1="291.651" y1="99.1" x2="296.849" y2="99.1" stroke="#111" stroke-width="0.7" />
<rect x="288.6" y="103.1" width="11.299999999999955" height="50.70000000000002" fill="#000" stroke="none" stroke-width="0"/>
<line x1="310.3" y1="127.2" x2="310.3" y2="121.8" stroke="#111" stroke-width="0.7" />
<line x1="307.77000000000004" y1="121.8" x2="312.83" y2="121.8" stroke="#111" stroke-width="0.7" />
<rect x="304.8" y="127.2" width="11.0" height="26.60000000000001" fill="#000" stroke="none" stroke-width="0"/>
<line x1="294" y1="94.6" x2="310.7" y2="94.6" stroke="#111" stroke-width="0.8" />
<rect x="300.85" y="91.30" width="1.70" height="1.60" rx="0.51" fill="#111"/>
<line x1="277.8" y1="153.8" x2="277.8" y2="155.3" stroke="#333" stroke-width="0.7" />
<text transform="translate(279.82,166.50) rotate(-90)" font-size="5.6" textLength="8.00" lengthAdjust="spacingAndGlyphs" fill="#111">Ctr</text>
<line x1="293.8" y1="153.8" x2="293.8" y2="155.3" stroke="#333" stroke-width="0.7" />
<text transform="translate(295.82,172.80) rotate(-90)" font-size="5.6" textLength="14.30" lengthAdjust="spacingAndGlyphs" fill="#111">PAO1</text>
<line x1="309.6" y1="153.8" x2="309.6" y2="155.3" stroke="#333" stroke-width="0.7" />
<text transform="translate(311.62,178.00) rotate(-90)" font-size="5.6" textLength="19.50" lengthAdjust="spacingAndGlyphs" fill="#111">Boston</text>
<line x1="272.5" y1="180.3" x2="315.5" y2="180.3" stroke="#111" stroke-width="0.7" />
<text x="293.3" y="186.6" font-size="5.9" text-anchor="middle" fill="#111" >RSV</text>
<line x1="350.4" y1="81.9" x2="350.4" y2="154.70000000000002" stroke="#1a1a1a" stroke-width="0.9" />
<line x1="350.0" y1="154.3" x2="400" y2="154.3" stroke="#1a1a1a" stroke-width="0.9" />
<line x1="348.79999999999995" y1="82.2" x2="350.4" y2="82.2" stroke="#333" stroke-width="0.7" />
<text x="347.59999999999997" y="84.06080000000001" font-size="5.7" text-anchor="end" fill="#111" >100</text>
<line x1="348.79999999999995" y1="96.62" x2="350.4" y2="96.62" stroke="#333" stroke-width="0.7" />
<text x="347.59999999999997" y="98.48080000000002" font-size="5.7" text-anchor="end" fill="#111" >80</text>
<line x1="348.79999999999995" y1="111.04" x2="350.4" y2="111.04" stroke="#333" stroke-width="0.7" />
<text x="347.59999999999997" y="112.90080000000002" font-size="5.7" text-anchor="end" fill="#111" >60</text>
<line x1="348.79999999999995" y1="125.46000000000001" x2="350.4" y2="125.46000000000001" stroke="#333" stroke-width="0.7" />
<text x="347.59999999999997" y="127.32080000000002" font-size="5.7" text-anchor="end" fill="#111" >40</text>
<line x1="348.79999999999995" y1="139.88" x2="350.4" y2="139.88" stroke="#333" stroke-width="0.7" />
<text x="347.59999999999997" y="141.7408" font-size="5.7" text-anchor="end" fill="#111" >20</text>
<line x1="348.79999999999995" y1="154.3" x2="350.4" y2="154.3" stroke="#333" stroke-width="0.7" />
<text x="347.59999999999997" y="156.16080000000002" font-size="5.7" text-anchor="end" fill="#111" >0</text>
<text transform="translate(337.03,143.70) rotate(-90)" font-size="6.2" textLength="51.50" lengthAdjust="spacingAndGlyphs" fill="#111">CPE pos wells (%)</text>
<line x1="375.3" y1="118.1" x2="375.3" y2="97.6" stroke="#111" stroke-width="0.7" />
<line x1="372.678" y1="97.6" x2="377.922" y2="97.6" stroke="#111" stroke-width="0.7" />
<rect x="369.6" y="118.1" width="11.399999999999977" height="36.20000000000002" fill="#000" stroke="none" stroke-width="0"/>
<line x1="359.8" y1="94.6" x2="375.9" y2="94.6" stroke="#111" stroke-width="0.8" />
<rect x="366.85" y="90.90" width="1.70" height="1.60" rx="0.51" fill="#111"/>
<line x1="359.8" y1="154.3" x2="359.8" y2="155.8" stroke="#333" stroke-width="0.7" />
<text transform="translate(361.82,166.40) rotate(-90)" font-size="5.6" textLength="8.00" lengthAdjust="spacingAndGlyphs" fill="#111">Ctr</text>
<line x1="375.1" y1="154.3" x2="375.1" y2="155.8" stroke="#333" stroke-width="0.7" />
<text transform="translate(377.12,172.70) rotate(-90)" font-size="5.6" textLength="14.30" lengthAdjust="spacingAndGlyphs" fill="#111">PAO1</text>
<line x1="391.1" y1="154.3" x2="391.1" y2="155.8" stroke="#333" stroke-width="0.7" />
<text transform="translate(393.12,177.90) rotate(-90)" font-size="5.6" textLength="19.50" lengthAdjust="spacingAndGlyphs" fill="#111">Boston</text>
<line x1="354.4" y1="180.5" x2="399.5" y2="180.5" stroke="#111" stroke-width="0.7" />
<text x="375" y="186.6" font-size="5.9" text-anchor="middle" fill="#111" >RSV</text>
<text x="4.1" y="193.8" font-size="7" text-anchor="start" fill="#111" >D</text>
<rect x="63.7" y="196.1" width="5.8" height="2.6" fill="#fff" stroke="#111" stroke-width="0.9"/>
<text x="73.6" y="199.3" font-size="6.0" text-anchor="start" fill="#111" >Ctr</text>
<rect x="88.9" y="195.8" width="8.2" height="3.3" fill="#000" stroke="none" stroke-width="0"/>
<text x="100.6" y="199.3" font-size="6.0" text-anchor="start" fill="#111" >RSV</text>
<line x1="23.3" y1="205.29999999999998" x2="23.3" y2="268.09999999999997" stroke="#1a1a1a" stroke-width="0.9" />
<line x1="22.900000000000002" y1="267.7" x2="75.5" y2="267.7" stroke="#1a1a1a" stroke-width="0.9" />
<line x1="21.7" y1="205.6" x2="23.3" y2="205.6" stroke="#333" stroke-width="0.7" />
<text x="21.6" y="207.62959999999998" font-size="5.9" text-anchor="end" fill="#111" >20</text>
<line x1="21.7" y1="221.125" x2="23.3" y2="221.125" stroke="#333" stroke-width="0.7" />
<text x="21.6" y="223.1546" font-size="5.9" text-anchor="end" fill="#111" >15</text>
<line x1="21.7" y1="236.64999999999998" x2="23.3" y2="236.64999999999998" stroke="#333" stroke-width="0.7" />
<text x="21.6" y="238.67959999999997" font-size="5.9" text-anchor="end" fill="#111" >10</text>
<line x1="21.7" y1="252.17499999999998" x2="23.3" y2="252.17499999999998" stroke="#333" stroke-width="0.7" />
<text x="21.6" y="254.20459999999997" font-size="5.9" text-anchor="end" fill="#111" >5</text>
<line x1="21.7" y1="267.7" x2="23.3" y2="267.7" stroke="#333" stroke-width="0.7" />
<text x="21.6" y="269.7296" font-size="5.9" text-anchor="end" fill="#111" >0</text>
<text transform="translate(6.33,248.20) rotate(-90)" font-size="6.2" textLength="34.70" lengthAdjust="spacingAndGlyphs" fill="#111">FI MX1 (Actb)</text>
<rect x="27.9" y="265.0" width="6.900000000000003" height="2.699999999999966" fill="#fff" stroke="#111" stroke-width="0.8"/>
<line x1="41.0" y1="215.4" x2="41.0" y2="209" stroke="#111" stroke-width="0.7" />
<line x1="39.436" y1="209" x2="42.564" y2="209" stroke="#111" stroke-width="0.7" />
<rect x="37.6" y="215.4" width="6.799999999999997" height="52.29999999999998" fill="#000" stroke="none" stroke-width="0"/>
<rect x="53.9" y="265.0" width="6.300000000000002" height="2.699999999999966" fill="#fff" stroke="#111" stroke-width="0.8"/>
<line x1="66.8" y1="261.3" x2="66.8" y2="258.6" stroke="#111" stroke-width="0.7" />
<line x1="65.23599999999999" y1="258.6" x2="68.364" y2="258.6" stroke="#111" stroke-width="0.7" />
<rect x="63.4" y="261.3" width="6.800000000000004" height="6.399999999999977" fill="#000" stroke="none" stroke-width="0"/>
<line x1="40.8" y1="206.5" x2="66.8" y2="206.5" stroke="#222" stroke-width="0.8" />
<rect x="52.20" y="204.03" width="1.30" height="1.15" rx="0.39" fill="#444"/>
<rect x="54.05" y="204.03" width="1.30" height="1.15" rx="0.39" fill="#444"/>
<rect x="55.90" y="204.03" width="1.30" height="1.15" rx="0.39" fill="#444"/>
<line x1="35.5" y1="267.7" x2="35.5" y2="269.2" stroke="#333" stroke-width="0.7" />
<text transform="translate(37.59,278.80) rotate(-90)" font-size="5.8" textLength="8.30" lengthAdjust="spacingAndGlyphs" fill="#111">Ctr</text>
<line x1="61.3" y1="267.7" x2="61.3" y2="269.2" stroke="#333" stroke-width="0.7" />
<text transform="translate(63.39,285.40) rotate(-90)" font-size="5.8" textLength="14.90" lengthAdjust="spacingAndGlyphs" fill="#111">PAO1</text>
<line x1="97.9" y1="205.0" x2="97.9" y2="267.9" stroke="#1a1a1a" stroke-width="0.9" />
<line x1="97.5" y1="267.5" x2="147.5" y2="267.5" stroke="#1a1a1a" stroke-width="0.9" />
<line x1="96.30000000000001" y1="205.3" x2="97.9" y2="205.3" stroke="#333" stroke-width="0.7" />
<text x="95.50000000000001" y="207.3296" font-size="5.9" text-anchor="end" fill="#111" >5</text>
<line x1="96.30000000000001" y1="217.74" x2="97.9" y2="217.74" stroke="#333" stroke-width="0.7" />
<text x="95.50000000000001" y="219.7696" font-size="5.9" text-anchor="end" fill="#111" >4</text>
<line x1="96.30000000000001" y1="230.18" x2="97.9" y2="230.18" stroke="#333" stroke-width="0.7" />
<text x="95.50000000000001" y="232.2096" font-size="5.9" text-anchor="end" fill="#111" >3</text>
<line x1="96.30000000000001" y1="242.62" x2="97.9" y2="242.62" stroke="#333" stroke-width="0.7" />
<text x="95.50000000000001" y="244.6496" font-size="5.9" text-anchor="end" fill="#111" >2</text>
<line x1="96.30000000000001" y1="255.06" x2="97.9" y2="255.06" stroke="#333" stroke-width="0.7" />
<text x="95.50000000000001" y="257.0896" font-size="5.9" text-anchor="end" fill="#111" >1</text>
<line x1="96.30000000000001" y1="267.5" x2="97.9" y2="267.5" stroke="#333" stroke-width="0.7" />
<text x="95.50000000000001" y="269.5296" font-size="5.9" text-anchor="end" fill="#111" >0</text>
<text transform="translate(86.33,249.40) rotate(-90)" font-size="6.2" textLength="38.50" lengthAdjust="spacingAndGlyphs" fill="#111">FI OAS1 (Actb)</text>
<rect x="103.7" y="255.4" width="5.900000000000003" height="12.1" fill="#fff" stroke="#111" stroke-width="0.8"/>
<line x1="116.35" y1="220.4" x2="116.35" y2="209" stroke="#111" stroke-width="0.7" />
<line x1="114.809" y1="209" x2="117.89099999999999" y2="209" stroke="#111" stroke-width="0.7" />
<rect x="113" y="220.4" width="6.700000000000003" height="47.099999999999994" fill="#000" stroke="none" stroke-width="0"/>
<rect x="129.20000000000002" y="255.4" width="5.999999999999983" height="12.1" fill="#fff" stroke="#111" stroke-width="0.8"/>
<line x1="142.0" y1="248.1" x2="142.0" y2="244.5" stroke="#111" stroke-width="0.7" />
<line x1="140.436" y1="244.5" x2="143.564" y2="244.5" stroke="#111" stroke-width="0.7" />
<rect x="138.6" y="248.1" width="6.800000000000011" height="19.400000000000006" fill="#000" stroke="none" stroke-width="0"/>
<line x1="116" y1="206.1" x2="142" y2="206.1" stroke="#222" stroke-width="0.8" />
<rect x="127.00" y="203.73" width="1.30" height="1.15" rx="0.39" fill="#444"/>
<rect x="128.85" y="203.73" width="1.30" height="1.15" rx="0.39" fill="#444"/>
<rect x="130.70" y="203.73" width="1.30" height="1.15" rx="0.39" fill="#444"/>
<line x1="111.2" y1="267.5" x2="111.2" y2="269.0" stroke="#333" stroke-width="0.7" />
<text transform="translate(113.29,278.80) rotate(-90)" font-size="5.8" textLength="8.30" lengthAdjust="spacingAndGlyphs" fill="#111">Ctr</text>
<line x1="136.9" y1="267.5" x2="136.9" y2="269.0" stroke="#333" stroke-width="0.7" />
<text transform="translate(138.99,285.40) rotate(-90)" font-size="5.8" textLength="14.90" lengthAdjust="spacingAndGlyphs" fill="#111">PAO1</text>
<text x="161.9" y="193.6" font-size="7" text-anchor="start" fill="#111" >E</text>
<rect x="254.2" y="196.1" width="6.2" height="2.6" fill="#fff" stroke="#111" stroke-width="0.9"/>
<text x="264.1" y="199.3" font-size="6.0" text-anchor="start" fill="#111" >Ctr</text>
<rect x="280.0" y="195.8" width="7.3" height="3.3" fill="#000" stroke="none" stroke-width="0"/>
<text x="291.1" y="199.3" font-size="6.0" text-anchor="start" fill="#111" >RSV</text>
<line x1="184.1" y1="205.2" x2="184.1" y2="267.5" stroke="#1a1a1a" stroke-width="0.9" />
<line x1="183.7" y1="267.1" x2="273.8" y2="267.1" stroke="#1a1a1a" stroke-width="0.9" />
<line x1="182.5" y1="205.5" x2="184.1" y2="205.5" stroke="#333" stroke-width="0.7" />
<text x="181.7" y="207.5296" font-size="5.9" text-anchor="end" fill="#111" >100</text>
<line x1="182.5" y1="226.03333333333333" x2="184.1" y2="226.03333333333333" stroke="#333" stroke-width="0.7" />
<text x="181.7" y="228.06293333333332" font-size="5.9" text-anchor="end" fill="#111" >10</text>
<line x1="182.5" y1="246.5666666666667" x2="184.1" y2="246.5666666666667" stroke="#333" stroke-width="0.7" />
<text x="181.7" y="248.59626666666668" font-size="5.9" text-anchor="end" fill="#111" >1</text>
<line x1="182.5" y1="267.1" x2="184.1" y2="267.1" stroke="#333" stroke-width="0.7" />
<text x="181.7" y="269.12960000000004" font-size="5.9" text-anchor="end" fill="#111" >0.1</text>
<text transform="translate(171.03,249.65) rotate(-90)" font-size="6.2" textLength="34.00" lengthAdjust="spacingAndGlyphs" fill="#111">FI MX1 (Actb)</text>
<rect x="189.0" y="247.6" width="5.2999999999999945" height="19.500000000000036" fill="#fff" stroke="#111" stroke-width="0.8"/>
<line x1="199.85000000000002" y1="217.8" x2="199.85000000000002" y2="215.4" stroke="#111" stroke-width="0.7" />
<line x1="198.44700000000003" y1="215.4" x2="201.25300000000001" y2="215.4" stroke="#111" stroke-width="0.7" />
<rect x="196.8" y="217.8" width="6.099999999999994" height="49.30000000000001" fill="#000" stroke="none" stroke-width="0"/>
<rect x="211.0" y="238.9" width="5.2999999999999945" height="28.200000000000024" fill="#fff" stroke="#111" stroke-width="0.8"/>
<line x1="222.35000000000002" y1="232.1" x2="222.35000000000002" y2="230.1" stroke="#111" stroke-width="0.7" />
<line x1="220.94700000000003" y1="230.1" x2="223.75300000000001" y2="230.1" stroke="#111" stroke-width="0.7" />
<rect x="219.3" y="232.1" width="6.099999999999994" height="35.00000000000003" fill="#000" stroke="none" stroke-width="0"/>
<rect x="219.80" y="225.83" width="1.30" height="1.15" rx="0.39" fill="#444"/>
<rect x="221.65" y="225.83" width="1.30" height="1.15" rx="0.39" fill="#444"/>
<rect x="223.50" y="225.83" width="1.30" height="1.15" rx="0.39" fill="#444"/>
<rect x="234.1" y="237.8" width="5.2999999999999945" height="29.30000000000002" fill="#fff" stroke="#111" stroke-width="0.8"/>
<line x1="244.95" y1="212" x2="244.95" y2="208.6" stroke="#111" stroke-width="0.7" />
<line x1="243.547" y1="208.6" x2="246.35299999999998" y2="208.6" stroke="#111" stroke-width="0.7" />
<rect x="241.9" y="212" width="6.099999999999994" height="55.10000000000002" fill="#000" stroke="none" stroke-width="0"/>
<rect x="256.0" y="239.0" width="5.2999999999999945" height="28.10000000000003" fill="#fff" stroke="#111" stroke-width="0.8"/>
<line x1="266.75" y1="233.8" x2="266.75" y2="230.2" stroke="#111" stroke-width="0.7" />
<line x1="265.347" y1="230.2" x2="268.153" y2="230.2" stroke="#111" stroke-width="0.7" />
<rect x="263.7" y="233.8" width="6.100000000000023" height="33.30000000000001" fill="#000" stroke="none" stroke-width="0"/>
<rect x="264.20" y="225.83" width="1.30" height="1.15" rx="0.39" fill="#444"/>
<rect x="266.05" y="225.83" width="1.30" height="1.15" rx="0.39" fill="#444"/>
<rect x="267.90" y="225.83" width="1.30" height="1.15" rx="0.39" fill="#444"/>
<line x1="195.5" y1="267.1" x2="195.5" y2="268.6" stroke="#333" stroke-width="0.7" />
<text x="195.5" y="275.4" font-size="5.7" text-anchor="middle" fill="#111" >Ctr</text>
<line x1="217.3" y1="267.1" x2="217.3" y2="268.6" stroke="#333" stroke-width="0.7" />
<text x="217.3" y="275.4" font-size="5.7" text-anchor="middle" fill="#111" >PAO1</text>
<line x1="240" y1="267.1" x2="240" y2="268.6" stroke="#333" stroke-width="0.7" />
<text x="240" y="275.4" font-size="5.7" text-anchor="middle" fill="#111" >PA7</text>
<line x1="262.6" y1="267.1" x2="262.6" y2="268.6" stroke="#333" stroke-width="0.7" />
<text x="262.6" y="275.4" font-size="5.7" text-anchor="middle" fill="#111" >PA14</text>
<line x1="301.3" y1="205.6" x2="301.3" y2="267.59999999999997" stroke="#1a1a1a" stroke-width="0.9" />
<line x1="300.90000000000003" y1="267.2" x2="391.4" y2="267.2" stroke="#1a1a1a" stroke-width="0.9" />
<line x1="299.7" y1="205.9" x2="301.3" y2="205.9" stroke="#333" stroke-width="0.7" />
<text x="298.9" y="207.9296" font-size="5.9" text-anchor="end" fill="#111" >100</text>
<line x1="299.7" y1="226.33333333333334" x2="301.3" y2="226.33333333333334" stroke="#333" stroke-width="0.7" />
<text x="298.9" y="228.36293333333333" font-size="5.9" text-anchor="end" fill="#111" >10</text>
<line x1="299.7" y1="246.76666666666665" x2="301.3" y2="246.76666666666665" stroke="#333" stroke-width="0.7" />
<text x="298.9" y="248.79626666666664" font-size="5.9" text-anchor="end" fill="#111" >1</text>
<line x1="299.7" y1="267.2" x2="301.3" y2="267.2" stroke="#333" stroke-width="0.7" />
<text x="298.9" y="269.2296" font-size="5.9" text-anchor="end" fill="#111" >0.1</text>
<text transform="translate(289.53,252.60) rotate(-90)" font-size="6.2" textLength="40.10" lengthAdjust="spacingAndGlyphs" fill="#111">FI OAS1 (Actb)</text>
<rect x="305.59999999999997" y="247.4" width="5.2" height="19.79999999999999" fill="#fff" stroke="#111" stroke-width="0.8"/>
<line x1="316.6" y1="228.8" x2="316.6" y2="226.3" stroke="#111" stroke-width="0.7" />
<line x1="315.22" y1="226.3" x2="317.98" y2="226.3" stroke="#111" stroke-width="0.7" />
<rect x="313.6" y="228.8" width="6.0" height="38.39999999999998" fill="#000" stroke="none" stroke-width="0"/>
<rect x="327.79999999999995" y="243.9" width="5.2" height="23.29999999999999" fill="#fff" stroke="#111" stroke-width="0.8"/>
<line x1="339.0" y1="241.4" x2="339.0" y2="238.8" stroke="#111" stroke-width="0.7" />
<line x1="337.62" y1="238.8" x2="340.38" y2="238.8" stroke="#111" stroke-width="0.7" />
<rect x="336.0" y="241.4" width="6.0" height="25.799999999999983" fill="#000" stroke="none" stroke-width="0"/>
<rect x="336.50" y="234.73" width="1.30" height="1.15" rx="0.39" fill="#444"/>
<rect x="338.35" y="234.73" width="1.30" height="1.15" rx="0.39" fill="#444"/>
<rect x="340.20" y="234.73" width="1.30" height="1.15" rx="0.39" fill="#444"/>
<rect x="350.4" y="246.8" width="5.2" height="20.399999999999984" fill="#fff" stroke="#111" stroke-width="0.8"/>
<line x1="361.1" y1="222.4" x2="361.1" y2="218.4" stroke="#111" stroke-width="0.7" />
<line x1="359.72" y1="218.4" x2="362.48" y2="218.4" stroke="#111" stroke-width="0.7" />
<rect x="358.1" y="222.4" width="6.0" height="44.79999999999998" fill="#000" stroke="none" stroke-width="0"/>
<rect x="372.79999999999995" y="244.3" width="5.2" height="22.899999999999984" fill="#fff" stroke="#111" stroke-width="0.8"/>
<line x1="383.7" y1="241.6" x2="383.7" y2="238.8" stroke="#111" stroke-width="0.7" />
<line x1="382.32" y1="238.8" x2="385.08" y2="238.8" stroke="#111" stroke-width="0.7" />
<rect x="380.7" y="241.6" width="6.0" height="25.599999999999994" fill="#000" stroke="none" stroke-width="0"/>
<rect x="381.20" y="234.73" width="1.30" height="1.15" rx="0.39" fill="#444"/>
<rect x="383.05" y="234.73" width="1.30" height="1.15" rx="0.39" fill="#444"/>
<rect x="384.90" y="234.73" width="1.30" height="1.15" rx="0.39" fill="#444"/>
<line x1="311.8" y1="267.2" x2="311.8" y2="268.7" stroke="#333" stroke-width="0.7" />
<text x="311.8" y="275.4" font-size="5.7" text-anchor="middle" fill="#111" >Ctr</text>
<line x1="334.5" y1="267.2" x2="334.5" y2="268.7" stroke="#333" stroke-width="0.7" />
<text x="334.5" y="275.4" font-size="5.7" text-anchor="middle" fill="#111" >PAO1</text>
<line x1="356.6" y1="267.2" x2="356.6" y2="268.7" stroke="#333" stroke-width="0.7" />
<text x="356.6" y="275.4" font-size="5.7" text-anchor="middle" fill="#111" >PA7</text>
<line x1="379.5" y1="267.2" x2="379.5" y2="268.7" stroke="#333" stroke-width="0.7" />
<text x="379.5" y="275.4" font-size="5.7" text-anchor="middle" fill="#111" >PA14</text>
</svg>
</body></html>
